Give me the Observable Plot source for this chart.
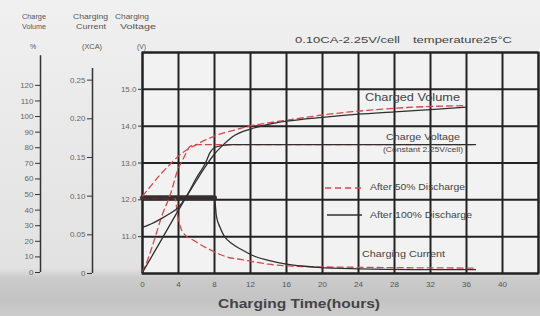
<!DOCTYPE html>
<html>
<head>
<meta charset="utf-8">
<script src="https://cdn.jsdelivr.net/npm/d3@7"></script>
<script src="https://cdn.jsdelivr.net/npm/@observablehq/plot@0.6"></script>
<style>
  html, body { margin: 0; padding: 0; }
  body { width: 540px; height: 316px; position: relative; overflow: hidden;
    background: linear-gradient(#f0f0f0 0px, #e2e2e2 268px, #cbcbcb 278px, #c3c3c3 300px, #cdcdcd 316px);
    font-family: "Liberation Sans", Arial, sans-serif; }
  #chart { position: absolute; left: 0; top: 0; }
  #overlay { position: absolute; left: 0; top: 0; pointer-events: none; }
  #overlay text { font-family: "Liberation Sans", Arial, sans-serif; fill: #555; }
</style>
</head>
<body>
<div id="chart"></div>
<svg id="overlay" width="540" height="316"></svg>
<script>
// ---- tick labels / axes ----
const hourTicks = [0, 4, 8, 12, 16, 20, 24, 28, 32, 36, 40];
const gridHours = [0, 4, 8, 12, 16, 20, 24, 28, 32, 36, 40, 44];
const voltGrid = [10, 11, 12, 13, 14, 15, 16];
const voltTicks = [11, 12, 13, 14, 15];
const volumeTicks = [0, 10, 20, 30, 40, 50, 60, 70, 80, 90, 100, 110, 120];
const currentTicks = [0, 0.05, 0.10, 0.15, 0.20, 0.25];

// ---- Charged volume (%) ----
const tVol100 = [0, 2, 4, 6, 7, 8, 9, 10, 12, 14, 16, 20, 24, 28, 32, 36];
const vol100  = [0, 20, 40, 59, 68, 76, 82, 87, 92, 95, 97, 99.5, 101.5, 103, 104.5, 106];
const tVol50  = [0, 1, 2, 3, 3.5, 4.5, 5, 6, 7, 8, 9, 10, 12, 14, 17, 20, 25, 30, 36];
const vol50   = [49, 56, 63, 69, 72, 77, 79, 82, 85, 87.5, 89.5, 91, 94, 96, 98.5, 101, 104, 106, 107];

// ---- Charge voltage (V) ----
const tVolt100 = [0, 1, 2, 3, 4, 5, 6, 7, 7.5, 8, 9, 10, 37];
const volt100  = [11.25, 11.35, 11.48, 11.62, 11.8, 12.15, 12.6, 13.0, 13.28, 13.42, 13.48, 13.5, 13.5];
const tVolt50  = [0, 0.3, 1.1, 2.2, 3.1, 3.9, 4.6, 5.3, 6, 37];
const volt50   = [10.05, 10.2, 10.75, 11.6, 12.15, 12.8, 13.15, 13.45, 13.5, 13.5];

// ---- Charging current (xCA) ----
const tCur100 = [0, 8, 8.2, 8.6, 9, 10, 11, 12.5, 14, 16, 19.5, 24, 30, 37];
const cur100  = [0.098, 0.098, 0.075, 0.06, 0.05, 0.038, 0.031, 0.022, 0.017, 0.012, 0.008, 0.006, 0.005, 0.005];
const tCur50  = [0, 3.6, 3.9, 4.5, 5.8, 7.3, 9.5, 11, 14, 18, 24, 37];
const cur50   = [0.098, 0.098, 0.075, 0.053, 0.042, 0.032, 0.021, 0.018, 0.012, 0.009, 0.008, 0.007];

// secondary axes expressed in the voltage scale
const volToV = p => 10.027 + 0.04234 * p;
const vToVol = v => (v - 10.027) / 0.04234;
const curToV = c => 10 + 21 * c;
const vToCur = v => (v - 10) / 21;

const zip = (ts, vs, f) => ts.map((t, i) => ({t, v: f(vs[i])}));
const id = v => v;

const dark = "#2f2f2f";
const red = "#d8474b";

const plot = Plot.plot({
  width: 540,
  height: 316,
  marginLeft: 142,
  marginRight: 2,
  marginTop: 52,
  marginBottom: 43,
  style: {background: "transparent", fontFamily: "Liberation Sans, Arial, sans-serif"},
  x: {domain: [0, 44], label: null},
  y: {domain: [10, 16], label: null},
  marks: [
    Plot.frame({fill: "#f2f2f2", stroke: null}),
    Plot.gridX(gridHours, {stroke: "#222", strokeOpacity: 1, strokeWidth: 2}),
    Plot.gridY(voltGrid, {stroke: "#222", strokeOpacity: 1, strokeWidth: 2}),
    Plot.frame({stroke: "#222", strokeWidth: 2}),
    // voltage axis (at frame)
    Plot.axisY(voltTicks, {label: null, tickSize: 4, tickPadding: 2, fontSize: 8, fill: "#666", stroke: "#333", tickFormat: d => d.toFixed(1)}),
    // current axis
    Plot.ruleX([0], {y1: curToV(0), y2: curToV(0.265), dx: -50, stroke: "#333", strokeWidth: 1.5}),
    Plot.axisY(currentTicks.map(curToV), {label: null, dx: -50, tickSize: 5, tickPadding: 2, fontSize: 8, fill: "#666", stroke: "#333",
      tickFormat: d => { const c = Math.round(vToCur(d) * 100) / 100; return c === 0 ? "0" : c.toFixed(2); }}),
    // volume axis
    Plot.ruleX([0], {y1: volToV(0), y2: volToV(139), dx: -102, stroke: "#333", strokeWidth: 1.5}),
    Plot.axisY(volumeTicks.map(volToV), {label: null, dx: -102, tickSize: 5, tickPadding: 2, fontSize: 8, fill: "#666", stroke: "#333",
      tickFormat: d => String(Math.round(vToVol(d)))}),
    // x axis
    Plot.axisX(hourTicks, {label: null, tickSize: 0, tickPadding: 8, fontSize: 8, fill: "#555"}),
    // current: constant-current phase (thick)
    Plot.line(zip(tCur100.slice(0, 2), cur100.slice(0, 2), curToV), {x: "t", y: "v", stroke: "#3a2e2e", strokeWidth: 5}),
    // 50% discharge (dashed red)
    Plot.line(zip(tCur50, cur50, curToV), {x: "t", y: "v", stroke: red, strokeWidth: 1.3, strokeDasharray: "6,4", curve: "monotone-x"}),
    Plot.line(zip(tVolt50, volt50, id), {x: "t", y: "v", stroke: red, strokeWidth: 1.3, strokeDasharray: "6,4", curve: "monotone-x"}),
    Plot.line(zip(tVol50, vol50, volToV), {x: "t", y: "v", stroke: red, strokeWidth: 1.3, strokeDasharray: "6,4", curve: "monotone-x"}),
    // 100% discharge (solid dark)
    Plot.line(zip(tCur100, cur100, curToV), {x: "t", y: "v", stroke: dark, strokeWidth: 1.3, curve: "monotone-x"}),
    Plot.line(zip(tVolt100, volt100, id), {x: "t", y: "v", stroke: dark, strokeWidth: 1.3, curve: "monotone-x"}),
    Plot.line(zip(tVol100, vol100, volToV), {x: "t", y: "v", stroke: dark, strokeWidth: 1.3, curve: "monotone-x"})
  ]
});
document.getElementById("chart").appendChild(plot);

// ---- annotation texts (overlay) ----
const ov = d3.select("#overlay");
function label(str, x, y, w, size, opts = {}) {
  const t = ov.append("text").attr("x", x).attr("y", y).attr("font-size", size)
    .attr("dominant-baseline", "middle").text(str);
  if (w) t.attr("textLength", w).attr("lengthAdjust", "spacingAndGlyphs");
  if (opts.anchor) t.attr("text-anchor", opts.anchor);
  if (opts.weight) t.attr("font-weight", opts.weight);
  if (opts.fill) t.style("fill", opts.fill);
  return t;
}
label("Charge", 22, 17, 24, 7);
label("Volume", 22, 27, 24, 7);
label("%", 30, 47, null, 7);
label("Charging", 73, 17, 35, 7);
label("Current", 76, 27, 30, 7);
label("(XCA)", 82, 47, 20, 7);
label("Charging", 115, 17, 34, 7);
label("Voltage", 120, 27, 36, 7);
label("(V)", 137, 47, 9, 7);
label("0.10CA-2.25V/cell", 295, 41, 105, 9, {fill: "#444"});
label("temperature25°C", 413, 41, 99, 9, {fill: "#444"});
label("Charged Volume", 365, 98, 95, 10, {fill: "#444"});
label("Charge Voltage", 386, 138, 74, 9, {fill: "#444"});
label("(Constant 2.25V/cell)", 383, 150, 80, 8, {fill: "#444"});
label("Charging Current", 362, 255, 83, 8.5, {fill: "#444"});
label("After 50% Discharge", 370, 188, 95, 8.5, {fill: "#444"});
label("After 100% Discharge", 370, 216, 102, 8.5, {fill: "#444"});
label("Charging Time(hours)", 218, 305, 162, 13, {weight: "bold", fill: "#444"});
ov.append("line").attr("x1", 325).attr("x2", 363).attr("y1", 188).attr("y2", 188)
  .attr("stroke", red).attr("stroke-width", 1.3).attr("stroke-dasharray", "6,4");
ov.append("line").attr("x1", 327).attr("x2", 362).attr("y1", 215).attr("y2", 215)
  .attr("stroke", dark).attr("stroke-width", 1.3);
</script>
</body>
</html>
